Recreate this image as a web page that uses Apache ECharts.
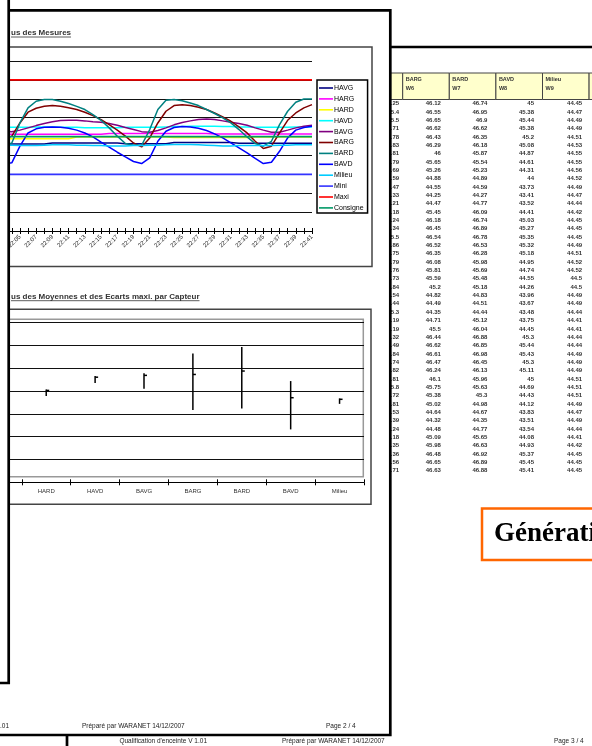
<!DOCTYPE html>
<html><head><meta charset="utf-8">
<script src="https://cdn.jsdelivr.net/npm/echarts@6.0.0/dist/echarts.min.js"></script>
<style>html,body{margin:0;padding:0;background:#fff;overflow:hidden}#c{width:592px;height:746px}</style>
</head><body><div id="c"></div>
<script>
// ---------------- Chart 1 : mesures ----------------
const timeLabels = ['22:03','22:04','22:05','22:06','22:07','22:08','22:09','22:10','22:11','22:12','22:13','22:14','22:15','22:16','22:17','22:18','22:19','22:20','22:21','22:22','22:23','22:24','22:25','22:26','22:27','22:28','22:29','22:30','22:31','22:32','22:33','22:34','22:35','22:36','22:37','22:38','22:39','22:40','22:41'];
const HAVG = [44.6,44.6,44.6,44.6,44.6,44.6,44.66,44.66,44.66,44.66,44.66,44.66,44.66,44.66,44.66,44.62,44.62,44.62,44.62,44.62,44.62,44.68,44.68,44.68,44.68,44.68,44.68,44.68,44.68,44.64,44.64,44.64,44.64,44.64,44.64,44.64,44.64,44.64,44.64];
const HARG = [45.12,45.12,45.12,45.12,45.12,45.12,45.12,45.12,45.12,45.12,45.12,45.12,45.12,45.16,45.16,45.16,45.16,45.16,45.16,45.16,45.16,45.16,45.16,45.16,45.16,45.16,45.14,45.14,45.14,45.14,45.14,45.14,45.14,45.14,45.14,45.14,45.14,45.14,45.14];
const HARD = [44.88,44.88,44.88,44.88,44.88,44.88,44.88,44.88,44.88,44.98,44.98,44.98,44.98,44.98,44.98,44.98,44.98,44.98,44.98,44.98,44.98,44.95,44.95,44.95,44.95,44.95,44.95,44.95,44.95,44.95,44.95,44.98,44.98,44.98,44.98,44.98,44.98,44.98,44.98];
const HAVD = [45.49,45.49,45.49,45.49,45.51,45.51,45.51,45.49,45.49,45.49,45.47,45.47,45.47,45.47,45.47,45.49,45.49,45.49,45.49,45.49,45.51,45.53,45.53,45.55,45.55,45.55,45.55,45.53,45.53,45.51,45.51,45.49,45.49,45.49,45.49,45.49,45.51,45.51,45.51];
const BAVG = [45.28,45.25,45.34,45.46,45.58,45.69,45.78,45.85,45.86,45.86,45.83,45.79,45.76,45.69,45.6,45.48,45.37,45.26,45.23,45.32,45.46,45.62,45.74,45.83,45.9,45.93,45.9,45.83,45.76,45.69,45.6,45.46,45.34,45.23,45.23,45.34,45.46,45.55,45.6];
const BARG = [44.84,45.02,45.72,46.29,46.5,46.6,46.64,46.6,46.52,46.43,46.29,46.11,45.9,45.63,45.34,45.02,44.66,44.45,44.93,45.72,46.34,46.64,46.69,46.64,46.55,46.43,46.25,46.04,45.81,45.51,45.19,44.75,44.37,44.49,45.19,45.86,46.25,46.52,46.69];
const BARD = [44.49,44.66,45.72,46.52,46.87,46.96,46.96,46.87,46.75,46.6,46.43,46.16,45.86,45.46,45.02,44.63,44.54,44.54,45.37,46.43,46.92,46.96,46.9,46.78,46.64,46.43,46.22,45.99,45.72,45.37,44.98,44.63,44.49,44.75,45.63,46.34,46.82,46.99,46.99];
const BAVD = [43.55,43.61,44.49,45.19,45.41,45.49,45.51,45.49,45.44,45.34,45.19,44.98,44.7,44.44,44.17,43.92,43.68,43.57,43.87,44.75,45.28,45.48,45.53,45.51,45.44,45.32,45.14,44.93,44.66,44.4,44.14,43.84,43.57,43.64,44.22,44.93,45.34,45.48,45.55];
const MILIEU = [44.54,44.54,44.52,44.52,44.52,44.54,44.56,44.56,44.56,44.54,44.54,44.52,44.52,44.5,44.5,44.5,44.52,44.52,44.54,44.54,44.56,44.58,44.58,44.58,44.56,44.54,44.52,44.5,44.5,44.52,44.52,44.52,44.52,44.52,44.54,44.54,44.56,44.56,44.56];
const MINI = [43,43,43,43,43,43,43,43,43,43,43,43,43,43,43,43,43,43,43,43,43,43,43,43,43,43,43,43,43,43,43,43,43,43,43,43,43,43,43];
const MAXI = [48,48,48,48,48,48,48,48,48,48,48,48,48,48,48,48,48,48,48,48,48,48,48,48,48,48,48,48,48,48,48,48,48,48,48,48,48,48,48];
const CONSIGNE = [45,45,45,45,45,45,45,45,45,45,45,45,45,45,45,45,45,45,45,45,45,45,45,45,45,45,45,45,45,45,45,45,45,45,45,45,45,45,45];

// ---------------- Chart 2 : moyennes / ecarts ----------------
const capteurs = ['HAVG','HARG','HARD','HAVD','BAVG','BARG','BARD','BAVD','Milieu'];
const ecartMin = [44.5,45.05,44.78,45.36,45.1,44.17,44.24,43.32,44.44];
const ecartMax = [44.75,45.3,45.07,45.66,45.78,46.65,46.93,45.44,44.68];
const moyenne  = [44.65,45.15,45.03,45.61,45.69,45.73,45.88,44.71,44.64];

// ---------------- Table (page 3) ----------------
const tableNames = ['BAVG','BARG','BARD','BAVD','Milieu','Mini'];
const tableCodes = ['W5','W6','W7','W8','W9','W10'];
const colW5 = [45.25,45.4,45.5,45.71,45.78,45.83,45.81,45.79,45.69,45.59,45.47,45.33,45.21,45.18,45.24,45.34,45.5,45.86,45.75,45.79,45.76,45.73,45.84,45.54,45.44,45.3,45.19,45.19,45.32,45.49,45.84,45.74,45.82,45.81,45.8,45.72,45.81,45.53,45.39,45.24,45.18,45.35,45.36,45.56,45.71];
const colW6 = [46.12,46.55,46.65,46.62,46.43,46.29,46,45.65,45.26,44.88,44.55,44.25,44.47,45.45,46.18,46.45,46.54,46.52,46.35,46.08,45.81,45.59,45.2,44.82,44.49,44.35,44.71,45.5,46.44,46.62,46.61,46.47,46.24,46.1,45.75,45.38,45.02,44.64,44.32,44.48,45.09,45.98,46.48,46.65,46.63];
const colW7 = [46.74,46.95,46.9,46.62,46.35,46.18,45.87,45.54,45.23,44.89,44.59,44.27,44.77,46.09,46.74,46.89,46.78,46.53,46.28,45.98,45.69,45.48,45.18,44.83,44.51,44.44,45.12,46.04,46.88,46.85,46.98,46.45,46.13,45.96,45.63,45.3,44.98,44.67,44.35,44.77,45.65,46.63,46.92,46.89,46.88];
const colW8 = [45,45.38,45.44,45.38,45.2,45.08,44.87,44.61,44.31,44,43.73,43.41,43.52,44.41,45.03,45.27,45.35,45.32,45.18,44.95,44.74,44.55,44.26,43.96,43.67,43.48,43.75,44.45,45.3,45.44,45.43,45.3,45.11,45,44.69,44.43,44.12,43.83,43.51,43.54,44.08,44.93,45.37,45.45,45.41];
const colW9 = [44.45,44.47,44.49,44.49,44.51,44.53,44.55,44.55,44.56,44.52,44.49,44.47,44.44,44.42,44.45,44.45,44.45,44.49,44.51,44.52,44.52,44.5,44.5,44.49,44.49,44.44,44.41,44.41,44.44,44.44,44.49,44.49,44.49,44.51,44.51,44.51,44.49,44.47,44.49,44.44,44.41,44.42,44.45,44.45,44.45];

const FONT = '"Liberation Sans", Arial, sans-serif';
const tableColumns = [colW5, colW6, colW7, colW8, colW9];
const cellPadRight = [3.5, 8.5, 8.5, 8.5, 7];
const rowIds = colW6.map((_, i) => String(i + 1));
const cellData = [];
tableColumns.forEach((col, c) => col.forEach((v, r) => cellData.push([c, r, v])));
const headerData = tableNames.map((_, c) => [c, 0]);

function measure(text, font){
  const ctx = document.createElement('canvas').getContext('2d');
  ctx.font = font; return ctx.measureText(text).width;
}

const chart = echarts.init(document.getElementById('c'), null, {renderer:'canvas'});

function lineSeries(name, data, color, width){
  return {name, type:'line', xAxisIndex:0, yAxisIndex:0, data, color, symbol:'none', showSymbol:false,
    lineStyle:{color, width:width || 1.5}, itemStyle:{color}, z:12, animation:false};
}

const title1Font = 'bold 8px ' + FONT;
const t1 = 'us des Mesures';
const t2 = 'us des Moyennes et des Ecarts maxi. par Capteur';
const footFont = '6.5px ' + FONT;

const option = {
  animation:false,
  backgroundColor:'#fff',
  textStyle:{fontFamily:FONT},
  grid:[
    {left:3.7, top:61, width:308.3, height:170, outerBoundsMode:'none', containLabel:false},
    {left:-76, top:322.7, width:440, height:159.6, outerBoundsMode:'none', containLabel:false},
    {left:356.1, top:99.5, width:279.6, height:375.3, outerBoundsMode:'none', containLabel:false}
  ],
  legend:{
    orient:'vertical', left:317, top:80, itemWidth:14, itemHeight:1.6, itemGap:2.9, icon:'rect',
    padding:[4,4,1,2], borderColor:'#000', borderWidth:1.5, backgroundColor:'#fff', z:20,
    textStyle:{fontSize:7, color:'#000', fontFamily:FONT, lineHeight:8, padding:[0,0,0,-4]},
    data:['HAVG','HARG','HARD','HAVD','BAVG','BARG','BARD','BAVD','Milieu','Mini','Maxi','Consigne']
  },
  xAxis:[
    {gridIndex:0, type:'category', position:'bottom', data:timeLabels, boundaryGap:false, z:10,
      axisLine:{lineStyle:{color:'#000', width:1}},
      axisTick:{show:true, interval:0, length:3, lineStyle:{color:'#000'}},
      axisLabel:{interval:1, rotate:45, fontSize:6, margin:5, color:'#222', fontFamily:FONT},
      splitLine:{show:false}},
    {gridIndex:0, type:'category', position:'bottom', offset:0, data:timeLabels, boundaryGap:false, z:10,
      axisLine:{show:false}, axisLabel:{show:false}, splitLine:{show:false},
      axisTick:{show:true, inside:true, interval:0, length:3, lineStyle:{color:'#000'}}},
    {gridIndex:1, type:'category', position:'bottom', data:capteurs, boundaryGap:true, z:10,
      axisLine:{lineStyle:{color:'#000', width:1}},
      axisTick:{show:true, length:3, lineStyle:{color:'#000'}},
      axisLabel:{fontSize:6, margin:6, color:'#333', fontFamily:FONT}},
    {gridIndex:1, type:'category', position:'bottom', offset:0, data:capteurs, boundaryGap:true, z:10,
      axisLine:{show:false}, axisLabel:{show:false}, splitLine:{show:false},
      axisTick:{show:true, inside:true, length:3, lineStyle:{color:'#000'}}},
    {gridIndex:2, type:'category', data:tableNames, show:false}
  ],
  yAxis:[
    {gridIndex:0, type:'value', min:40, max:49, interval:1, z:10,
      axisLine:{show:false}, axisTick:{show:false}, axisLabel:{show:false},
      splitLine:{lineStyle:{color:'#111', width:1}}},
    {gridIndex:1, type:'value', min:41, max:48, interval:1, z:10,
      axisLine:{show:false}, axisTick:{show:false}, axisLabel:{show:false},
      splitLine:{lineStyle:{color:'#111', width:1}}},
    {gridIndex:2, type:'category', data:rowIds, inverse:true, show:false}
  ],
  series:[
    lineSeries('HAVG', HAVG, '#000080'),
    lineSeries('HARG', HARG, '#FF00FF'),
    lineSeries('HARD', HARD, '#FFFF00'),
    lineSeries('HAVD', HAVD, '#00FFFF'),
    lineSeries('BAVG', BAVG, '#800080'),
    lineSeries('BARG', BARG, '#800000'),
    lineSeries('BARD', BARD, '#008080'),
    lineSeries('BAVD', BAVD, '#0000FF'),
    lineSeries('Milieu', MILIEU, '#00CCFF'),
    lineSeries('Mini', MINI, '#3333FF', 1.7),
    lineSeries('Maxi', MAXI, '#FF0000', 1.7),
    lineSeries('Consigne', CONSIGNE, '#009966', 1.7),
    {
      type:'custom', xAxisIndex:2, yAxisIndex:1, z:14, clip:false,
      data: capteurs.map((c, i) => [i, ecartMin[i], ecartMax[i], moyenne[i]]),
      renderItem:(params, api) => {
        const i = api.value(0);
        const lo = api.coord([i, api.value(1)]);
        const hi = api.coord([i, api.value(2)]);
        const mn = api.coord([i, api.value(3)]);
        return {type:'group', children:[
          {type:'line', shape:{x1:lo[0], y1:lo[1], x2:hi[0], y2:hi[1]}, style:{stroke:'#000', lineWidth:1.5}},
          {type:'line', shape:{x1:mn[0], y1:mn[1], x2:mn[0]+3, y2:mn[1]}, style:{stroke:'#000', lineWidth:1.5}}
        ]};
      }
    },
    {
      type:'custom', xAxisIndex:4, yAxisIndex:2, z:1, clip:false, silent:true,
      data: cellData,
      renderItem:(params, api) => {
        const col = api.value(0);
        const c = api.coord([col, api.value(1)]);
        const bw = api.size([1, 0])[0];
        return {type:'text', x:c[0] + bw/2 - cellPadRight[col], y:c[1],
          style:{text:String(api.value(2)), font:'bold 6px ' + FONT, fill:'#333',
            textAlign:'right', align:'right', textVerticalAlign:'middle', verticalAlign:'middle'}};
      }
    },
    {
      type:'custom', xAxisIndex:4, yAxisIndex:2, z:1, clip:false, silent:true,
      data: headerData,
      renderItem:(params, api) => {
        const col = api.value(0);
        const c = api.coord([col, 0]);
        const bw = api.size([1, 0])[0];
        const hh = 26.5;
        const top = params.coordSys.y - hh;
        const x0 = c[0] - bw/2;
        return {type:'group', children:[
          {type:'rect', shape:{x:x0, y:top, width:bw, height:hh}, style:{fill:'#FFFFCC', stroke:'#444', lineWidth:1}},
          {type:'text', x:x0 + 3, y:top + 6, style:{text:tableNames[col], font:'bold 5.5px ' + FONT, fill:'#333', textVerticalAlign:'middle', verticalAlign:'middle'}},
          {type:'text', x:x0 + 3, y:top + 15, style:{text:tableCodes[col], font:'bold 5.5px ' + FONT, fill:'#333', textVerticalAlign:'middle', verticalAlign:'middle'}}
        ]};
      }
    }
  ],
  graphic:[
    // page 3 frame (behind)
    {type:'rect', z:0, shape:{x:67, y:47, width:560, height:720}, style:{fill:'#fff', stroke:'#000', lineWidth:2.7}},
    {type:'rect', z:1, shape:{x:482, y:508.5, width:200, height:51.5}, style:{fill:null, stroke:'#FF6600', lineWidth:2.5}},
    {type:'text', z:1, x:494, y:534, style:{text:'Génération', font:'bold 27px "Liberation Serif", "Times New Roman", serif', fill:'#000', textVerticalAlign:'middle', verticalAlign:'middle'}},
    {type:'text', z:1, x:207, y:741, style:{text:"Qualification d'enceinte V 1.01", font:footFont, fill:'#222', textAlign:'right', align:'right', textVerticalAlign:'middle', verticalAlign:'middle'}},
    {type:'text', z:1, x:282, y:741, style:{text:'Préparé par WARANET 14/12/2007', font:footFont, fill:'#222', textVerticalAlign:'middle', verticalAlign:'middle'}},
    {type:'text', z:1, x:554, y:741, style:{text:'Page 3 / 4', font:footFont, fill:'#222', textVerticalAlign:'middle', verticalAlign:'middle'}},
    // page 2 (front)
    {type:'rect', z:5, shape:{x:-30, y:10.3, width:420.3, height:724.7}, style:{fill:'#fff', stroke:'#000', lineWidth:2.7}},
    {type:'rect', z:6, shape:{x:-30, y:47, width:402, height:219.5}, style:{fill:null, stroke:'#444', lineWidth:1.5}},
    {type:'rect', z:6, shape:{x:-30, y:309.3, width:401, height:195}, style:{fill:null, stroke:'#444', lineWidth:1.5}},
    {type:'rect', z:6, shape:{x:-90, y:319.3, width:453.3, height:157.5}, style:{fill:null, stroke:'#999', lineWidth:1.5}},
    {type:'text', z:7, x:11, y:33, style:{text:t1, font:title1Font, fill:'#333', textVerticalAlign:'middle', verticalAlign:'middle'}},
    {type:'line', z:7, shape:{x1:11, y1:37, x2:11 + measure(t1, title1Font), y2:37}, style:{stroke:'#333', lineWidth:0.8}},
    {type:'text', z:7, x:11, y:296.7, style:{text:t2, font:title1Font, fill:'#333', textVerticalAlign:'middle', verticalAlign:'middle'}},
    {type:'line', z:7, shape:{x1:11, y1:300.7, x2:11 + measure(t2, title1Font), y2:300.7}, style:{stroke:'#333', lineWidth:0.8}},
    {type:'text', z:7, x:9, y:726, style:{text:"Qualification d'enceinte V 1.01", font:footFont, fill:'#222', textAlign:'right', align:'right', textVerticalAlign:'middle', verticalAlign:'middle'}},
    {type:'text', z:7, x:82, y:726, style:{text:'Préparé par WARANET 14/12/2007', font:footFont, fill:'#222', textVerticalAlign:'middle', verticalAlign:'middle'}},
    {type:'text', z:7, x:326, y:726, style:{text:'Page 2 / 4', font:footFont, fill:'#222', textVerticalAlign:'middle', verticalAlign:'middle'}},
    // page 1 (front-left)
    {type:'rect', z:50, shape:{x:-30, y:-30, width:38.7, height:713}, style:{fill:'#fff', stroke:'#000', lineWidth:2.7}}
  ]
};
chart.setOption(option);
</script></body></html>
